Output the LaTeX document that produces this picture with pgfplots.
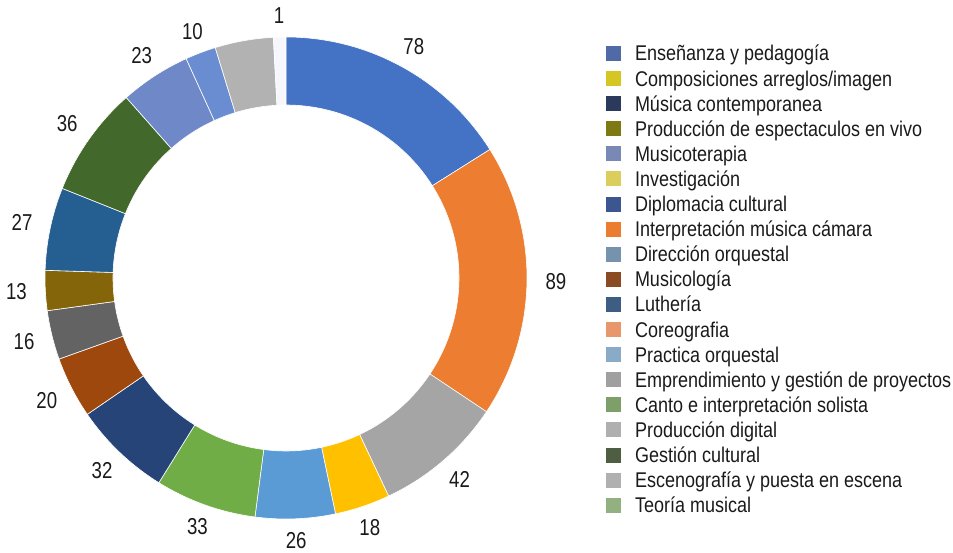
\documentclass[border=0pt]{standalone}
\usepackage{fontspec}
\setmainfont{Liberation Sans}[FakeStretch=0.845]
\newfontfamily\labfont{Liberation Sans}[FakeStretch=0.81]
\usepackage{pgfplots}
\usepackage{pgfplotstable}
\pgfplotsset{compat=1.18}

% slice colours (ring order, clockwise from the top)
\definecolor{slc0}{HTML}{4472C4}
\definecolor{slc1}{HTML}{ED7D31}
\definecolor{slc2}{HTML}{A5A5A5}
\definecolor{slc3}{HTML}{FFC000}
\definecolor{slc4}{HTML}{5B9BD5}
\definecolor{slc5}{HTML}{70AD47}
\definecolor{slc6}{HTML}{264478}
\definecolor{slc7}{HTML}{9E480E}
\definecolor{slc8}{HTML}{636363}
\definecolor{slc9}{HTML}{846509}
\definecolor{slc10}{HTML}{255E91}
\definecolor{slc11}{HTML}{43682B}
\definecolor{slc12}{HTML}{6E88C8}
\definecolor{slc13}{HTML}{6A8DD2}
\definecolor{slc14}{HTML}{B2B2B2}
\definecolor{slc15}{HTML}{F8F6FD}
% legend colours
\definecolor{lg1}{HTML}{4F6AA6}
\definecolor{lg2}{HTML}{D6C623}
\definecolor{lg3}{HTML}{2B3A5C}
\definecolor{lg4}{HTML}{7E7A13}
\definecolor{lg5}{HTML}{7A88B5}
\definecolor{lg6}{HTML}{DBCE5C}
\definecolor{lg7}{HTML}{3B5690}
\definecolor{lg8}{HTML}{EC7C30}
\definecolor{lg9}{HTML}{7693AE}
\definecolor{lg10}{HTML}{8A4A22}
\definecolor{lg11}{HTML}{3E5D82}
\definecolor{lg12}{HTML}{E8966C}
\definecolor{lg13}{HTML}{8AABC8}
\definecolor{lg14}{HTML}{A0A0A0}
\definecolor{lg15}{HTML}{7E9E6A}
\definecolor{lg16}{HTML}{AFAFAF}
\definecolor{lg17}{HTML}{4E5E42}
\definecolor{lg18}{HTML}{B0B0B0}
\definecolor{lg19}{HTML}{93B081}
\definecolor{txt}{HTML}{1A1A1A}

% ring values, clockwise from 12 o'clock; lab = printed data label
\pgfplotstableread{
val lab
78 78
89 89
42 42
18 18
26 26
33 33
32 32
20 20
16 16
13 13
27 27
36 36
23 23
10 10
19 {}
4 1
}\slicetab

\begin{document}
\begin{tikzpicture}
\begin{axis}[
  width=953pt, height=553pt, scale only axis,
  xmin=0, xmax=953, ymin=0, ymax=553,
  hide axis, clip=false,
  legend image code/.code={\fill[#1] (0pt,-7.5pt) rectangle (15pt,7.5pt);},
  legend cell align=left,
  legend style={at={(axis cs:606,512)}, anchor=north west,
    draw=none, fill=none, inner sep=0pt, outer sep=0pt,
    row sep=0.1pt, column sep=14pt,
    font=\fontsize{21.3}{25}\selectfont, text=txt,
    nodes={inner sep=0pt, text height=20pt, text depth=5pt}},
]
\pgfplotstablegetrowsof{\slicetab}
\pgfmathtruncatemacro\last{\pgfplotsretval-1}
\def\tot{0}
\pgfplotsforeachungrouped \i in {0,...,\last}{%
  \pgfplotstablegetelem{\i}{val}\of\slicetab
  \pgfmathsetmacro\tot{\tot+\pgfplotsretval}%
}
\def\acc{90}
\pgfplotsforeachungrouped \i in {0,...,\last}{%
  \pgfplotstablegetelem{\i}{val}\of\slicetab
  \pgfmathsetmacro\aend{\acc-\pgfplotsretval/\tot*360}%
  \pgfmathsetmacro\amid{(\acc+\aend)/2}%
  \pgfmathsetmacro\lr{263+7*cos(\amid)^2}%
  \pgfplotstablegetelem{\i}{lab}\of\slicetab
  \let\lab\pgfplotsretval
  \edef\temp{%
    \noexpand\fill[slc\i, draw=white, line width=0.6pt, shift={(axis cs:286,275)}]
      (\acc:241pt) arc[start angle=\acc, end angle=\aend, radius=241pt]
      -- (\aend:173pt) arc[start angle=\aend, end angle=\acc, radius=173pt] -- cycle;
    \noexpand\path[shift={(axis cs:286,275)}] (\amid:\lr pt)
      node[text=txt, inner sep=0pt, font=\noexpand\labfont\noexpand\fontsize{23}{27}\noexpand\selectfont] {\lab};
  }\temp
  \let\acc\aend
}

\addlegendimage{fill=lg1, draw=none}\addlegendentry{Enseñanza y pedagogía}
\addlegendimage{fill=lg2, draw=none}\addlegendentry{Composiciones arreglos/imagen}
\addlegendimage{fill=lg3, draw=none}\addlegendentry{Música contemporanea}
\addlegendimage{fill=lg4, draw=none}\addlegendentry{Producción de espectaculos en vivo}
\addlegendimage{fill=lg5, draw=none}\addlegendentry{Musicoterapia}
\addlegendimage{fill=lg6, draw=none}\addlegendentry{Investigación}
\addlegendimage{fill=lg7, draw=none}\addlegendentry{Diplomacia cultural}
\addlegendimage{fill=lg8, draw=none}\addlegendentry{Interpretación música cámara}
\addlegendimage{fill=lg9, draw=none}\addlegendentry{Dirección orquestal}
\addlegendimage{fill=lg10, draw=none}\addlegendentry{Musicología}
\addlegendimage{fill=lg11, draw=none}\addlegendentry{Luthería}
\addlegendimage{fill=lg12, draw=none}\addlegendentry{Coreografia}
\addlegendimage{fill=lg13, draw=none}\addlegendentry{Practica orquestal}
\addlegendimage{fill=lg14, draw=none}\addlegendentry{Emprendimiento y gestión de proyectos}
\addlegendimage{fill=lg15, draw=none}\addlegendentry{Canto e interpretación solista}
\addlegendimage{fill=lg16, draw=none}\addlegendentry{Producción digital}
\addlegendimage{fill=lg17, draw=none}\addlegendentry{Gestión cultural}
\addlegendimage{fill=lg18, draw=none}\addlegendentry{Escenografía y puesta en escena}
\addlegendimage{fill=lg19, draw=none}\addlegendentry{Teoría musical}
\end{axis}
\pgfresetboundingbox
\path[use as bounding box] (current axis.south west) rectangle (current axis.north east);
\end{tikzpicture}
\end{document}
